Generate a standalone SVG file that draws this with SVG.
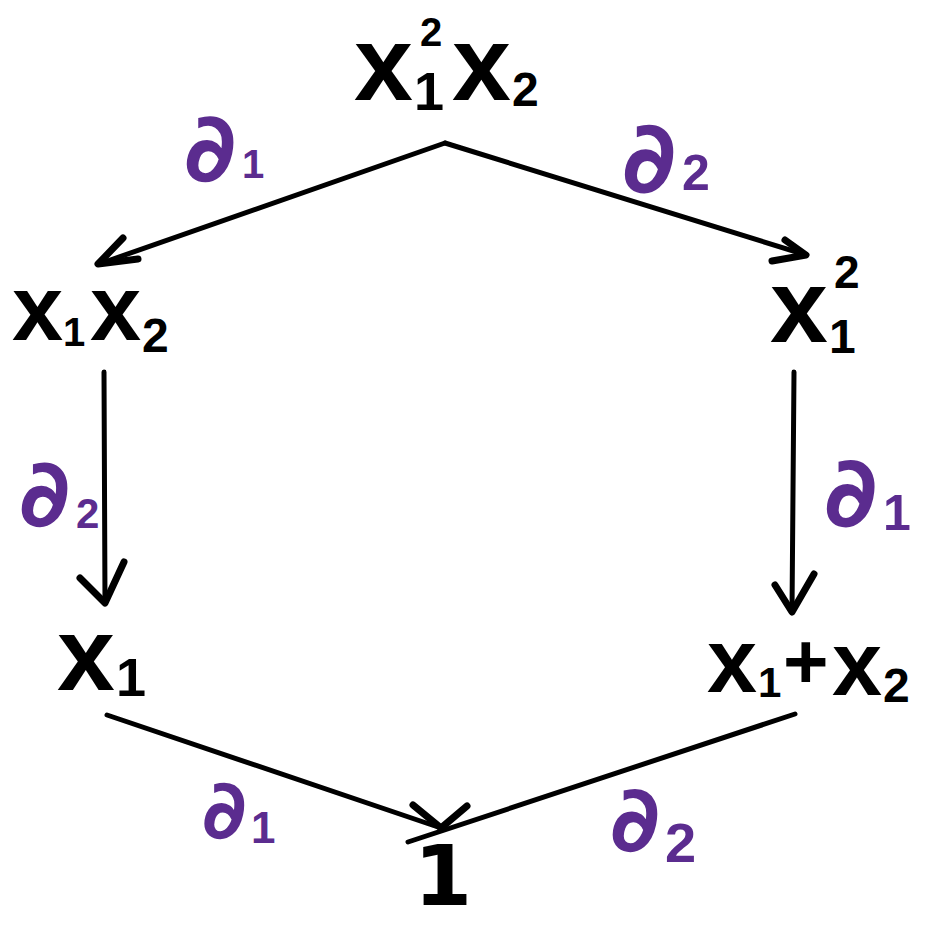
<svg xmlns="http://www.w3.org/2000/svg" width="938" height="928" viewBox="0 0 938 928">
<style>
.t{font-family:"Liberation Sans",Arial,sans-serif;font-weight:bold;fill:#000}
.d{font-family:"DejaVu Sans","Liberation Sans",sans-serif;font-weight:bold;fill:#5b2c8f}
.ds{font-family:"Liberation Sans",Arial,sans-serif;font-weight:bold;fill:#5b2c8f}
.one{font-family:"DejaVu Sans",sans-serif;font-weight:bold;fill:#000}
.ln{fill:none;stroke:#000;stroke-width:5;stroke-linecap:round}
.hd{fill:none;stroke:#000;stroke-width:7;stroke-linecap:round;stroke-linejoin:round}
</style>
<rect width="938" height="928" fill="#fff"/>
<g id="connectors">
<line class="ln" x1="445" y1="143" x2="99" y2="264"/>
<path class="hd" d="M123,238 L98,264 L138,259"/>
<line class="ln" x1="445" y1="143" x2="806" y2="255"/>
<path class="hd" d="M785,240 L806,255 L772,261"/>
<line class="ln" x1="104" y1="372" x2="105" y2="603"/>
<path class="hd" d="M80,578 L105,603 L124,562"/>
<line class="ln" x1="794" y1="372" x2="792" y2="612"/>
<path class="hd" d="M775,585 L792,612 L814,574"/>
<line class="ln" x1="107" y1="715" x2="441" y2="828"/>
<line class="ln" x1="795" y1="714" x2="408" y2="842"/>
<path class="hd" d="M413,805 L441,828 L467,806"/>
</g>
<g id="labels">
<g id="l1"><text><tspan class="d" x="184" y="181" font-size="96">∂</tspan><tspan class="ds" x="242" y="178" font-size="40">1</tspan></text></g>
<g id="l2"><text><tspan class="d" x="622" y="192" font-size="100">∂</tspan><tspan class="ds" x="682" y="190" font-size="50">2</tspan></text></g>
<g id="l3"><text><tspan class="d" x="19" y="526" font-size="94">∂</tspan><tspan class="ds" x="76" y="528" font-size="42">2</tspan></text></g>
<g id="l4"><text><tspan class="d" x="824" y="526" font-size="98">∂</tspan><tspan class="ds" x="883" y="530" font-size="50">1</tspan></text></g>
<g id="l5"><text><tspan class="d" x="202" y="838" font-size="82">∂</tspan><tspan class="ds" x="251" y="843" font-size="44">1</tspan></text></g>
<g id="l6"><text><tspan class="d" x="610" y="851" font-size="92">∂</tspan><tspan class="ds" x="665" y="862" font-size="56">2</tspan></text></g>
</g>
<g id="n-top"><text class="t"><tspan x="354" y="100" font-size="106">x</tspan><tspan x="414" y="110" font-size="54">1</tspan><tspan x="420" y="46" font-size="40">2</tspan><tspan x="452" y="100" font-size="106">x</tspan><tspan x="512" y="106" font-size="48">2</tspan></text></g>
<g id="n-left"><text class="t"><tspan x="12" y="340" font-size="92">x</tspan><tspan x="63" y="346" font-size="40">1</tspan><tspan x="90" y="340" font-size="92">x</tspan><tspan x="142" y="352" font-size="48">2</tspan></text></g>
<g id="n-right"><text class="t"><tspan x="770" y="342" font-size="104">x</tspan><tspan x="834" y="288" font-size="46">2</tspan><tspan x="829" y="353" font-size="48">1</tspan></text></g>
<g id="n-x1"><text class="t"><tspan x="57" y="690" font-size="104">x</tspan><tspan x="116" y="696" font-size="54">1</tspan></text></g>
<g id="n-sum"><text class="t"><tspan x="707" y="692" font-size="90">x</tspan><tspan x="758" y="697" font-size="42">1</tspan><tspan x="783" y="688" font-size="78">+</tspan><tspan x="832" y="695" font-size="90">x</tspan><tspan x="883" y="702" font-size="48">2</tspan></text></g>
<g id="n-one"><text class="one" x="443" y="905" font-size="84" text-anchor="middle">1</text></g>
</svg>
